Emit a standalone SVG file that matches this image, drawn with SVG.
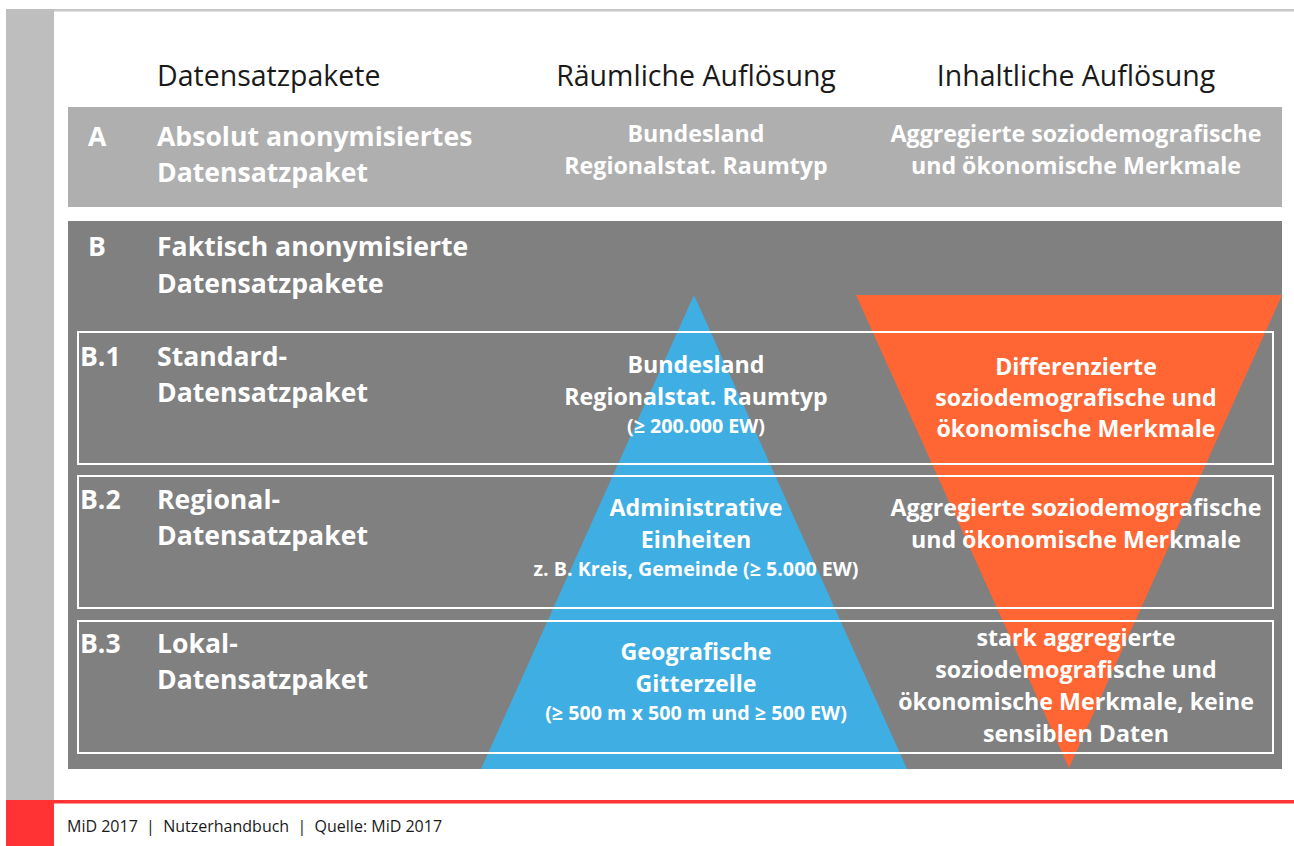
<svg xmlns="http://www.w3.org/2000/svg" width="1294" height="846" viewBox="0 0 1294 846">
<style>
.hd{font-family:"Open Sans","Liberation Sans",sans-serif;font-size:28.5px;fill:#1a1a1a}
.lb{font-family:"Open Sans","Liberation Sans",sans-serif;font-size:26.6px;font-weight:bold;fill:#fff}
.tx{font-family:"Open Sans","Liberation Sans",sans-serif;font-size:23.2px;font-weight:bold;fill:#fff;text-anchor:middle}
.sm{font-family:"Open Sans","Liberation Sans",sans-serif;font-size:19.7px;font-weight:bold;fill:#fff;text-anchor:middle}
.ft{font-family:"Open Sans","Liberation Sans",sans-serif;font-size:16px;fill:#1a1a1a}
.frame{fill:none;stroke:#fff;stroke-width:2}
</style>
<rect width="1294" height="846" fill="#fff"/>
<g id="page">
<rect x="6" y="9" width="1288" height="2.5" fill="#c8c8c8"/>
<rect x="6" y="9" width="48" height="791" fill="#bebebe"/>
<rect x="6" y="800" width="48" height="46" fill="#ff3333"/>
<rect x="54" y="800" width="1240" height="3.5" fill="#ff3333"/>
</g>
<g id="headers">
<text class="hd" x="157" y="86">Datensatzpakete</text>
<text class="hd" x="696" y="86" text-anchor="middle">Räumliche Auflösung</text>
<text class="hd" x="1076" y="86" text-anchor="middle">Inhaltliche Auflösung</text>
</g>
<g id="row-A">
<rect x="68" y="107" width="1214" height="100" fill="#afafaf"/>
<text class="lb" x="88" y="146">A</text>
<text class="lb" x="157" y="146">Absolut anonymisiertes</text>
<text class="lb" x="157" y="182">Datensatzpaket</text>
<text class="tx" x="696" y="142">Bundesland</text>
<text class="tx" x="696" y="174">Regionalstat. Raumtyp</text>
<text class="tx" x="1076" y="142">Aggregierte soziodemografische</text>
<text class="tx" x="1076" y="174">und ökonomische Merkmale</text>
</g>
<g id="row-B">
<rect x="68" y="221" width="1214" height="548" fill="#808080"/>
<text class="lb" x="88" y="256">B</text>
<text class="lb" x="157" y="256">Faktisch anonymisierte</text>
<text class="lb" x="157" y="293">Datensatzpakete</text>
</g>
<g id="triangles">
<polygon id="tri-spatial" points="694,295 907,769 481,769" fill="#3faee3"/>
<polygon id="tri-content" points="856,295 1282,295 1069,768" fill="#ff6633"/>
</g>
<g id="row-B1">
<rect class="frame" x="78" y="332" width="1195" height="132"/>
<text class="lb" x="80" y="366">B.1</text>
<text class="lb" x="157" y="366">Standard-</text>
<text class="lb" x="157" y="402">Datensatzpaket</text>
<text class="tx" x="696" y="373">Bundesland</text>
<text class="tx" x="696" y="405">Regionalstat. Raumtyp</text>
<text class="sm" x="696" y="433">(≥ 200.000 EW)</text>
<text class="tx" x="1076" y="375">Differenzierte</text>
<text class="tx" x="1076" y="406">soziodemografische und</text>
<text class="tx" x="1076" y="437">ökonomische Merkmale</text>
</g>
<g id="row-B2">
<rect class="frame" x="78" y="476" width="1195" height="132"/>
<text class="lb" x="80" y="509">B.2</text>
<text class="lb" x="157" y="509">Regional-</text>
<text class="lb" x="157" y="545">Datensatzpaket</text>
<text class="tx" x="696" y="516">Administrative</text>
<text class="tx" x="696" y="548">Einheiten</text>
<text class="sm" x="696" y="576">z. B. Kreis, Gemeinde (≥ 5.000 EW)</text>
<text class="tx" x="1076" y="516">Aggregierte soziodemografische</text>
<text class="tx" x="1076" y="548">und ökonomische Merkmale</text>
</g>
<g id="row-B3">
<rect class="frame" x="78" y="621" width="1195" height="132"/>
<text class="lb" x="80" y="653">B.3</text>
<text class="lb" x="157" y="653">Lokal-</text>
<text class="lb" x="157" y="689">Datensatzpaket</text>
<text class="tx" x="696" y="660">Geografische</text>
<text class="tx" x="696" y="692">Gitterzelle</text>
<text class="sm" x="696" y="720">(≥ 500 m x 500 m und ≥ 500 EW)</text>
<text class="tx" x="1076" y="646">stark aggregierte</text>
<text class="tx" x="1076" y="678">soziodemografische und</text>
<text class="tx" x="1076" y="710">ökonomische Merkmale, keine</text>
<text class="tx" x="1076" y="742">sensiblen Daten</text>
</g>
<g id="footer">
<text class="ft" x="67" y="832" xml:space="preserve">MiD 2017  |  Nutzerhandbuch  |  Quelle: MiD 2017</text>
</g>
</svg>
